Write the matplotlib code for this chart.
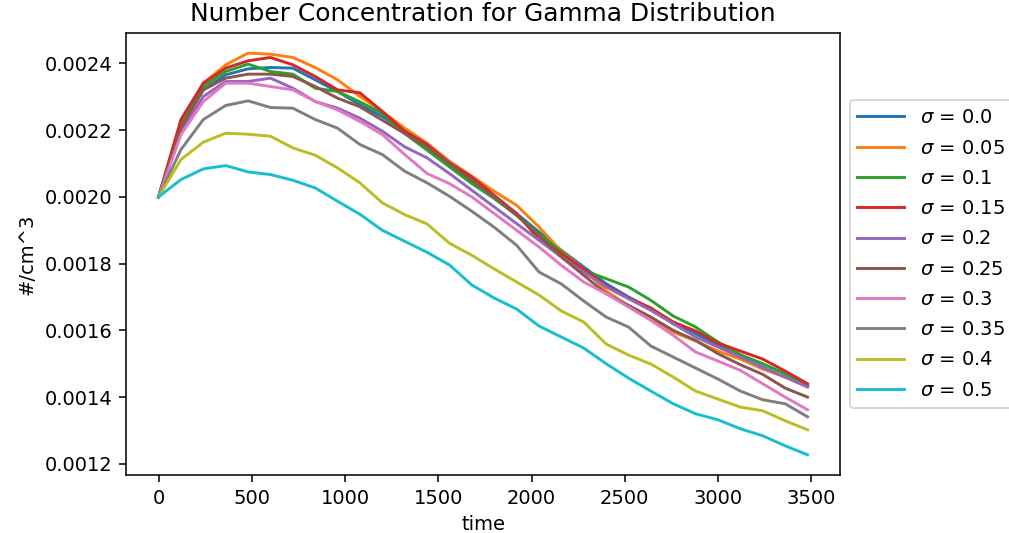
# Number concentration vs time for gamma distribution, several sigma values
import matplotlib
matplotlib.use('Agg')
import matplotlib.pyplot as plt
import numpy as np

time = np.arange(0, 3481, 120)

sigmas = ['0.0', '0.05', '0.1', '0.15', '0.2', '0.25', '0.3', '0.35', '0.4', '0.5']

n_00 = [0.002, 0.002217, 0.002321, 0.002366, 0.002384, 0.002388, 0.002386, 0.002351, 0.002316, 0.002276,
        0.002241, 0.002197, 0.00215, 0.002095, 0.00205, 0.002, 0.00195, 0.001895, 0.00184, 0.00179,
        0.00174, 0.0017, 0.001665, 0.00162, 0.00159, 0.001555, 0.00152, 0.00149, 0.00146, 0.001433]
n_005 = [0.002, 0.00222, 0.002341, 0.002396, 0.002431, 0.002428, 0.002418, 0.002388, 0.002351, 0.002301,
         0.002256, 0.002206, 0.002161, 0.002107, 0.002062, 0.002017, 0.001975, 0.00191, 0.001837, 0.001784,
         0.001718, 0.001673, 0.001634, 0.001595, 0.001568, 0.001538, 0.001514, 0.001484, 0.00146, 0.001433]
n_01 = [0.002, 0.00222, 0.002331, 0.002376, 0.002398, 0.002376, 0.002368, 0.002326, 0.002316, 0.002285,
        0.00225, 0.00219, 0.00214, 0.00209, 0.00204, 0.001995, 0.001945, 0.00189, 0.001835, 0.00178,
        0.001755, 0.00173, 0.00169, 0.001643, 0.00161, 0.001565, 0.001527, 0.0015, 0.00147, 0.001436]
n_015 = [0.002, 0.002232, 0.002341, 0.002386, 0.002408, 0.002418, 0.002396, 0.002361, 0.002321, 0.002312,
         0.002256, 0.002197, 0.002157, 0.002102, 0.00206, 0.002005, 0.00195, 0.001873, 0.00183, 0.001784,
         0.001733, 0.001697, 0.001667, 0.001625, 0.001598, 0.001562, 0.001538, 0.001514, 0.001478, 0.00144]
n_02 = [0.002, 0.002197, 0.002301, 0.002346, 0.002346, 0.002356, 0.002326, 0.002286, 0.002266, 0.002236,
        0.002197, 0.00215, 0.002117, 0.00207, 0.00202, 0.00197, 0.00192, 0.00187, 0.00182, 0.001775,
        0.00173, 0.001695, 0.00166, 0.00162, 0.00158, 0.00155, 0.00152, 0.001488, 0.00146, 0.00143]
n_025 = [0.002, 0.002207, 0.002321, 0.002356, 0.002368, 0.002368, 0.002361, 0.002331, 0.002296, 0.00227,
         0.00223, 0.00219, 0.00215, 0.0021, 0.00205, 0.002, 0.001945, 0.001885, 0.00182, 0.001765,
         0.00171, 0.001675, 0.00164, 0.0016, 0.00157, 0.00153, 0.001497, 0.001468, 0.001427, 0.0014]
n_03 = [0.002, 0.002187, 0.002286, 0.002341, 0.002341, 0.002331, 0.002321, 0.002286, 0.002261, 0.002226,
        0.002187, 0.002127, 0.00207, 0.00204, 0.002, 0.00195, 0.0019, 0.00185, 0.001795, 0.001745,
        0.00171, 0.00167, 0.00163, 0.001585, 0.001535, 0.001508, 0.00148, 0.00144, 0.0014, 0.001362]
n_035 = [0.002, 0.002142, 0.002232, 0.002274, 0.002288, 0.002268, 0.002266, 0.002232, 0.002206, 0.002157,
         0.002127, 0.002077, 0.002042, 0.002002, 0.001957, 0.001909, 0.001855, 0.001775, 0.001739, 0.001688,
         0.00164, 0.00161, 0.001553, 0.00152, 0.001487, 0.001454, 0.001418, 0.001392, 0.00138, 0.001341]
n_04 = [0.002, 0.002112, 0.002164, 0.002191, 0.002188, 0.002182, 0.002147, 0.002125, 0.002087, 0.002042,
        0.001982, 0.001947, 0.001919, 0.001861, 0.001825, 0.001784, 0.001745, 0.001706, 0.001658, 0.001625,
        0.001559, 0.001526, 0.001499, 0.00146, 0.001418, 0.001394, 0.00137, 0.001359, 0.001329, 0.001302]
n_05 = [0.002, 0.002052, 0.002084, 0.002094, 0.002075, 0.002067, 0.00205, 0.002027, 0.001987, 0.001948,
        0.0019, 0.001867, 0.001834, 0.001796, 0.001736, 0.001697, 0.001664, 0.001613, 0.00158, 0.001547,
        0.0015, 0.001457, 0.001418, 0.00138, 0.00135, 0.001332, 0.001305, 0.001284, 0.001254, 0.001227]

series = [n_00, n_005, n_01, n_015, n_02, n_025, n_03, n_035, n_04, n_05]

fig = plt.figure(figsize=(1009 / 140, 533 / 140), dpi=140)
ax = fig.add_axes([0.125, 0.109, 0.7075, 0.829])

for s, n in zip(sigmas, series):
    ax.plot(time, n, label=r'$\sigma$ = ' + s)

ax.set_title('Number Concentration for Gamma Distribution', fontsize=12.8)
ax.set_xlabel('time')
ax.set_ylabel('#/cm^3')
ax.legend(loc='center left', bbox_to_anchor=(1, 0.5), handlelength=2.4, labelspacing=0.58)

fig.savefig('out.png', dpi=140)
